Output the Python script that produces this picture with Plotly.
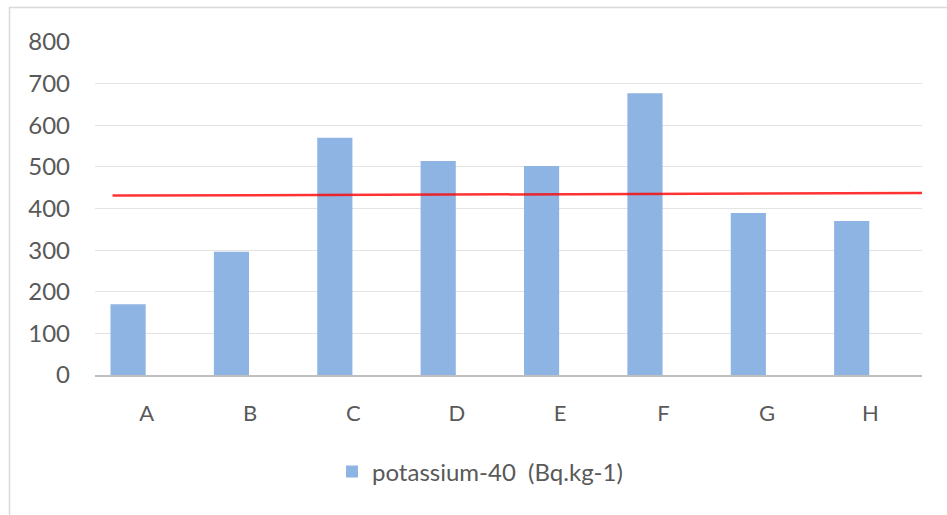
import plotly.graph_objects as go

categories = ["A", "B", "C", "D", "E", "F", "G", "H"]
potassium_40 = [170, 296, 570, 514, 502, 677, 389, 370]
series_name = "potassium-40  (Bq.kg-1)"

# reference (red) line: start/end positions in category index units and values
ref_x = [-0.33, 7.5]
ref_y = [431, 437]

y_ticks = [0, 100, 200, 300, 400, 500, 600, 700, 800]

W, H = 947, 515
L, R, T, B = 95, 25, 42, 140
pw, ph = W - L - R, H - T - B

FONT = "Lato"
TXT = "#595959"
FS = 24

fig = go.Figure()
fig.add_trace(go.Bar(
    x=list(range(len(categories))), y=potassium_40, name=series_name,
    marker=dict(color="#8DB4E2", line=dict(width=0)),
    width=0.34, offset=-0.35, showlegend=True,
))
fig.add_trace(go.Scatter(
    x=ref_x, y=ref_y, mode="lines", showlegend=False,
    line=dict(color="rgba(255,0,0,0.8)", width=2.5), hoverinfo="skip",
))

def px_x(x):
    return (x - L) / pw

def px_y(y):
    return (H - B - y) / ph

fig.add_shape(type="rect", xref="paper", yref="paper",
              x0=px_x(9.5), x1=px_x(960), y0=px_y(7.5), y1=px_y(530),
              line=dict(color="#D9D9D9", width=1.5), fillcolor="rgba(0,0,0,0)", layer="below")

fig.update_layout(
    width=W, height=H,
    margin=dict(l=L, r=R, t=T, b=B),
    paper_bgcolor="white", plot_bgcolor="white",
    font=dict(family=FONT, size=FS, color=TXT),
    xaxis=dict(
        tickmode="array", tickvals=list(range(len(categories))), ticktext=categories,
        range=[-0.5, len(categories) - 0.5],
        showgrid=False, zeroline=False, showline=True, linecolor="#BFBFBF", linewidth=1.5,
        ticks="", ticklabelstandoff=18,
        tickfont=dict(family=FONT, size=FS - 2, color=TXT),
    ),
    yaxis=dict(
        range=[0, 800], tickmode="array", tickvals=y_ticks,
        showgrid=True, gridcolor="#E3E3E3", gridwidth=1,
        zeroline=False, showline=False, ticks="", ticklabelstandoff=24,
        tickfont=dict(family=FONT, size=FS, color=TXT),
    ),
    legend=dict(
        orientation="h", x=px_x(480), y=px_y(472), xanchor="center", yanchor="middle",
        font=dict(family=FONT, size=FS, color=TXT), bgcolor="rgba(0,0,0,0)",
        itemwidth=30,
    ),
)

fig.write_html("out.html")
